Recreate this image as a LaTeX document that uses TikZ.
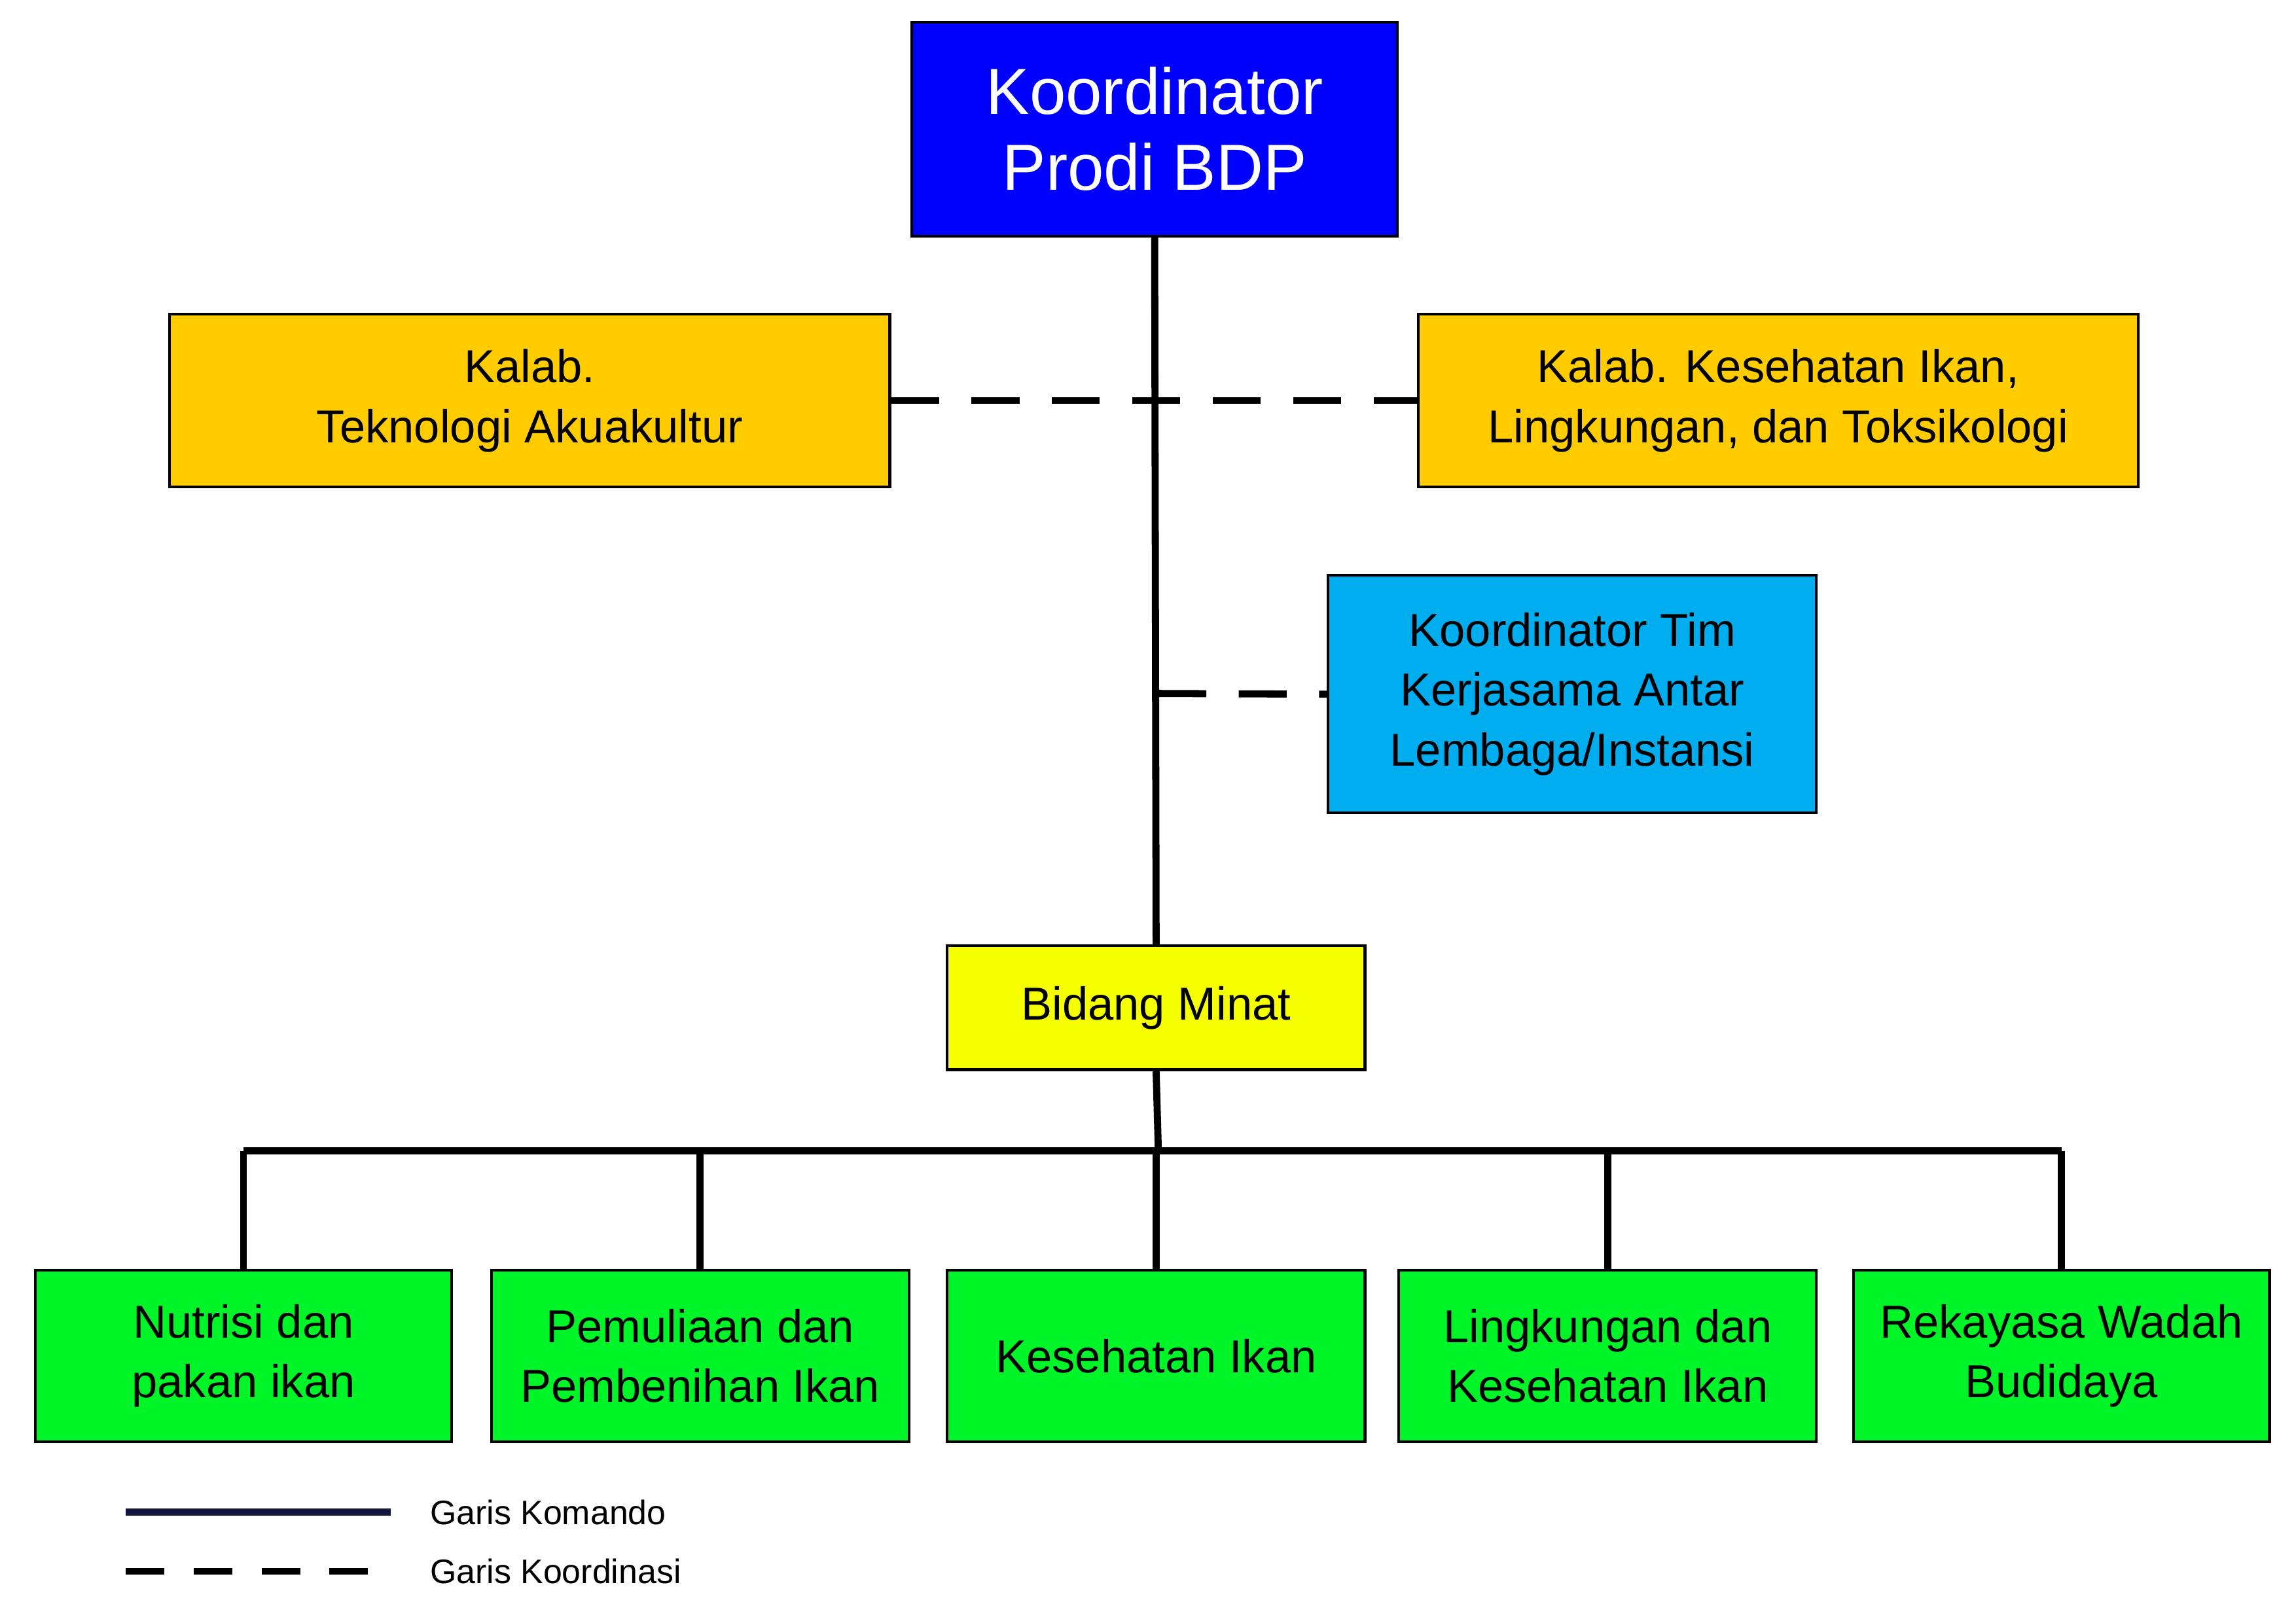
\documentclass[tikz,border=0pt]{standalone}
\usepackage{fontspec}
\setmainfont{Liberation Sans}
\usetikzlibrary{positioning}
\definecolor{kalab}{RGB}{255,204,0}
\definecolor{minat}{RGB}{245,255,0}
\definecolor{bidang}{RGB}{0,245,40}
\tikzset{
  box/.style={draw, line width=1pt, align=center, font=\fontsize{17}{22}\selectfont, inner sep=0pt},
  cmd/.style={line width=2.6pt},
  crd/.style={line width=2.6pt, dash pattern=on 0.62cm off 0.42cm}
}
\begin{document}
\begin{tikzpicture}[x=0.01909cm, y=-0.01909cm]
\useasboundingbox (0,0) rectangle (1556,1100);

\node[box, fill=blue, text=white, font=\fontsize{24}{28}\selectfont, minimum width=329*0.01909cm, minimum height=145*0.01909cm] (kp) at (782.5,87.5) {Koordinator\\Prodi BDP};
\node[box, fill=kalab, minimum width=488*0.01909cm, minimum height=117*0.01909cm] (kl) at (359,271.5) {Kalab.\\Teknologi Akuakultur};
\node[box, fill=kalab, minimum width=488*0.01909cm, minimum height=117*0.01909cm] (kr) at (1205,271.5) {Kalab. Kesehatan Ikan,\\Lingkungan, dan Toksikologi};
\node[box, fill=cyan, minimum width=331*0.01909cm, minimum height=161*0.01909cm] (kt) at (1065.5,470.5) {Koordinator Tim\\Kerjasama Antar\\Lembaga/Instansi};
\node[box, fill=minat, minimum width=283*0.01909cm, minimum height=84*0.01909cm] (bm) at (783.5,683) {Bidang Minat};

\node[box, fill=bidang, minimum width=282*0.01909cm, minimum height=116*0.01909cm] (b1) at (165,919) {Nutrisi dan\\pakan ikan};
\node[box, fill=bidang, minimum width=283*0.01909cm, minimum height=116*0.01909cm] (b2) at (474.5,919) {Pemuliaan dan\\Pembenihan Ikan};
\node[box, fill=bidang, minimum width=283*0.01909cm, minimum height=116*0.01909cm] (b3) at (783.5,919) {Kesehatan Ikan};
\node[box, fill=bidang, minimum width=283*0.01909cm, minimum height=116*0.01909cm] (b4) at (1089.5,919) {Lingkungan dan\\Kesehatan Ikan};
\node[box, fill=bidang, minimum width=282*0.01909cm, minimum height=116*0.01909cm] (b5) at (1397,919) {Rekayasa Wadah\\Budidaya};

\coordinate (kj) at (785,470);
\coordinate (hub) at (785,780);

% garis komando
\draw[cmd] (kp.south) -- (bm.north);
\draw[cmd] (bm.south) -- (hub);
\draw[cmd] (b1.north |- hub) -- (b5.north |- hub);
\foreach \b in {b1,b2,b3,b4,b5}
  \draw[cmd] (\b.north |- hub) -- (\b.north);

% garis koordinasi
\draw[crd] (kl.east) -- (kr.west);
\draw[crd] (kj) -- (kt.west);

% legenda
\coordinate (la) at (85,1025);
\coordinate (lb) at (265,1025);
\coordinate (lc) at (85,1065);
\coordinate (ld) at (265,1065);
\draw[cmd, draw={rgb,255:red,20;green,20;blue,60}] (la) -- (lb);
\draw[crd, dash pattern=on 0.5cm off 0.38cm] (lc) -- (ld);
\node[anchor=west, font=\fontsize{12.5}{15}\selectfont] (lk) at (285,1025) {Garis Komando};
\node[anchor=west, font=\fontsize{12.5}{15}\selectfont] (lo) at (285,1065) {Garis Koordinasi};
\end{tikzpicture}
\end{document}
